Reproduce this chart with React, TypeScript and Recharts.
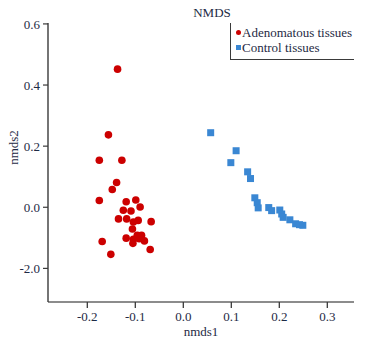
import { ScatterChart, Scatter, XAxis, YAxis, Legend } from 'recharts'

const adenomaX = [-0.137, -0.156, -0.175, -0.128, -0.139, -0.148, -0.175, -0.119, -0.099, -0.09, -0.125, -0.109, -0.135, -0.118, -0.104, -0.094, -0.067, -0.106, -0.119, -0.104, -0.096, -0.087, -0.092, -0.081, -0.105, -0.169, -0.069, -0.151]
const adenomaY = [0.452, 0.237, 0.154, 0.154, 0.081, 0.058, 0.022, 0.018, 0.024, 0.001, -0.01, -0.012, -0.038, -0.038, -0.048, -0.043, -0.047, -0.071, -0.101, -0.105, -0.092, -0.092, -0.103, -0.11, -0.118, -0.112, -0.138, -0.154]

const controlX = [0.057, 0.11, 0.099, 0.134, 0.14, 0.149, 0.154, 0.156, 0.178, 0.184, 0.201, 0.205, 0.208, 0.222, 0.234, 0.242, 0.249]
const controlY = [0.244, 0.185, 0.146, 0.116, 0.094, 0.031, 0.015, -0.002, -0.001, -0.011, -0.009, -0.022, -0.033, -0.041, -0.054, -0.057, -0.059]

const xTicks = [-0.2, -0.1, 0, 0.1, 0.2, 0.3]
const xTickLabels = ['-0.2', '-0.1', '0.0', '0.1', '0.2', '0.3']
const yTicks = [-0.2, 0, 0.2, 0.4, 0.6]
const yTickLabels = ['-2.0', '0.0', '0.2', '0.4', '0.6']

const RED = '#cc0000'
const BLUE = '#3a87d3'
const FONT = '"Liberation Serif", "Times New Roman", serif'
const AXIS = '#3a3a3a'
const TEXT = '#1e2a44'

const adenoma = adenomaX.map((x, i) => ({ x, y: adenomaY[i] }))
const control = controlX.map((x, i) => ({ x, y: controlY[i] }))

const xDomain = [-0.2819, 0.3556]
const yDomain = [-0.31, 0.603]

const tickStyle = { fontFamily: FONT, fontSize: 13, fill: TEXT }

function LegendBox({ payload }: any) {
  return (
    <div
      style={{
        border: `1px solid ${AXIS}`,
        borderTop: 'none',
        borderRight: 'none',
        height: 37,
        boxSizing: 'border-box',
        paddingTop: 2,
        paddingLeft: 5,
        fontFamily: FONT,
        fontSize: 13,
        color: TEXT,
        lineHeight: '15px',
        background: '#fff',
      }}
    >
      {(payload ?? []).map((p: any) => (
        <div key={p.value} style={{ display: 'flex', alignItems: 'center', whiteSpace: 'nowrap' }}>
          {p.value === 'Adenomatous tissues' ? (
            <span style={{ width: 5, height: 5, borderRadius: '50%', background: RED, marginRight: 1 }} />
          ) : (
            <span style={{ width: 5, height: 5, background: BLUE, marginRight: 1 }} />
          )}
          {p.value}
        </div>
      ))}
    </div>
  )
}

export default function App() {
  return (
    <div style={{ position: 'absolute', left: 0, top: 0, width: 373, height: 349, background: '#fff' }}>
      <div
        style={{
          position: 'absolute',
          left: 172,
          top: 5,
          width: 80,
          textAlign: 'center',
          fontFamily: FONT,
          fontSize: 13,
          lineHeight: '15px',
          color: TEXT,
        }}
      >
        NMDS
      </div>
      <ScatterChart width={373} height={349} margin={{ top: 23, right: 19, bottom: 0, left: 0 }}>
        <XAxis
          type="number"
          dataKey="x"
          domain={xDomain}
          ticks={xTicks}
          tickFormatter={(v: number) => xTickLabels[xTicks.indexOf(v)] ?? String(v)}
          height={47}
          tick={tickStyle}
          tickMargin={4}
          axisLine={{ stroke: '#8c8c8c', strokeWidth: 2 }}
          tickLine={{ stroke: AXIS, strokeWidth: 1.3 }}
          allowDataOverflow
          label={{
            content: ({ viewBox }: any) => (
              <text
                x={viewBox.x + viewBox.width / 2}
                y={viewBox.y + 34}
                textAnchor="middle"
                style={tickStyle}
              >
                nmds1
              </text>
            ),
          }}
        />
        <YAxis
          type="number"
          dataKey="y"
          domain={yDomain}
          ticks={yTicks}
          tickFormatter={(v: number) => yTickLabels[yTicks.indexOf(v)] ?? String(v)}
          width={48}
          tick={tickStyle}
          tickSize={5}
          tickMargin={3}
          axisLine={{ stroke: AXIS, strokeWidth: 1.4 }}
          tickLine={{ stroke: AXIS, strokeWidth: 1.2 }}
          allowDataOverflow
          label={{
            content: ({ viewBox }: any) => {
              const cy = viewBox.y + viewBox.height / 2 - 15
              return (
                <text x={17.5} y={cy} textAnchor="middle" transform={`rotate(-90, 17.5, ${cy})`} style={tickStyle}>
                  nmds2
                </text>
              )
            },
          }}
        />
        <XAxis xAxisId="top" orientation="top" type="number" domain={xDomain} height={0} tick={false} tickLine={false} stroke={AXIS} strokeWidth={1.3} />
        <YAxis yAxisId="right" orientation="right" type="number" domain={yDomain} width={0} tick={false} tickLine={false} stroke={AXIS} strokeWidth={1.4} />
        <Legend
          layout="horizontal"
          verticalAlign="middle"
          align="center"
          wrapperStyle={{ left: 230, top: 23, width: 124 }}
          content={<LegendBox />}
        />
        <Scatter
          name="Adenomatous tissues"
          data={adenoma}
          fill={RED}
          isAnimationActive={false}
          shape={(p: any) => <circle cx={p.cx} cy={p.cy} r={3.8} fill={RED} />}
        />
        <Scatter
          name="Control tissues"
          data={control}
          fill={BLUE}
          isAnimationActive={false}
          shape={(p: any) => <rect x={p.cx - 3.5} y={p.cy - 3.5} width={7} height={7} fill={BLUE} />}
        />
      </ScatterChart>
    </div>
  )
}
